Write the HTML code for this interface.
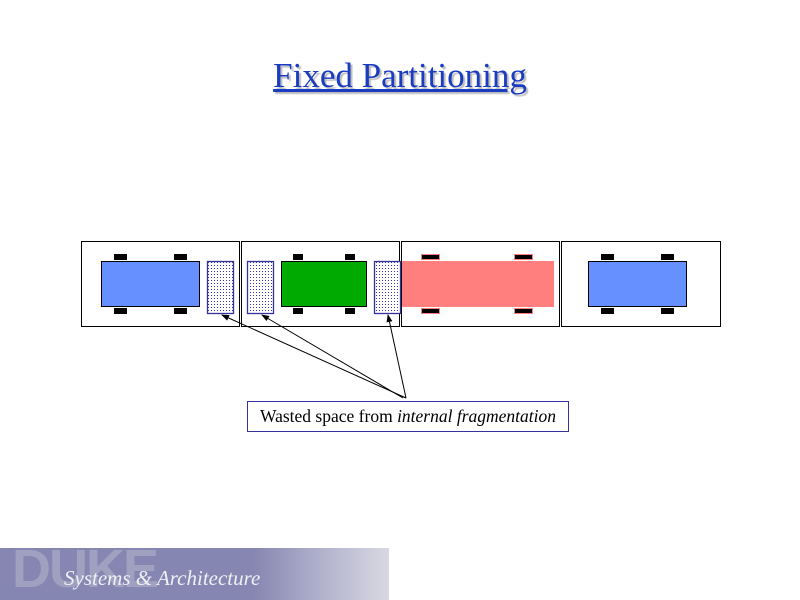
<!DOCTYPE html>
<html><head><meta charset="utf-8"><style>
body{margin:0;width:800px;height:600px;background:#fff;position:relative;overflow:hidden;font-family:"Liberation Serif",serif}
.t{position:absolute;left:0;width:800px;top:56px;text-align:center;font-family:"Liberation Serif",serif;font-size:35px;color:#1a3cc0;text-decoration:underline;text-shadow:2px 2px 1px #bbb}
.lbl{position:absolute;left:247px;top:401px;border:1px solid #333399;box-sizing:border-box;width:322px;height:31px;font-size:17.5px;line-height:29px;text-align:center;white-space:nowrap}
.foot{position:absolute;left:0;top:548px;width:389px;height:52px;background:linear-gradient(90deg,#8686b2 0%,#8686b2 65%,#b0b0cc 82%,#d8d8e2 100%)}
.duke{position:absolute;left:12px;top:-10px;font-family:"Liberation Sans",sans-serif;font-weight:bold;font-size:54px;color:#a0a0c0;letter-spacing:-2px}
.sa{position:absolute;left:64px;top:18px;font-style:italic;font-size:21px;color:#f0f0f4;white-space:nowrap}
</style></head><body>
<div class="t">Fixed Partitioning</div>
<svg width="800" height="600" style="position:absolute;left:0;top:0">
<defs><pattern id="d" width="3" height="3" patternUnits="userSpaceOnUse"><rect width="3" height="3" fill="#fff"/><rect x="1" y="1" width="1" height="1" fill="#3333aa"/></pattern>
<marker id="a" markerWidth="8" markerHeight="8" refX="7" refY="4" orient="auto"><path d="M0,1 L8,4 L0,7z" fill="#000"/></marker></defs>
<g fill="none" stroke="#000" stroke-width="1">
<rect x="81.5" y="241.5" width="158" height="85"/>
<rect x="241.5" y="241.5" width="158" height="85"/>
<rect x="401.5" y="241.5" width="158" height="85"/>
<rect x="561.5" y="241.5" width="159" height="85"/>
</g>
<g fill="#000">
<rect x="114" y="254" width="13" height="6"/><rect x="174" y="254" width="13" height="6"/><rect x="114" y="308" width="13" height="6"/><rect x="174" y="308" width="13" height="6"/>
<rect x="293" y="254" width="10" height="6"/><rect x="345" y="254" width="10" height="6"/><rect x="293" y="308" width="10" height="6"/><rect x="345" y="308" width="10" height="6"/>
<rect x="601" y="254" width="13" height="6"/><rect x="661" y="254" width="13" height="6"/><rect x="601" y="308" width="13" height="6"/><rect x="661" y="308" width="13" height="6"/>
</g>
<rect x="101.5" y="261.5" width="98" height="45" fill="#6690ff" stroke="#000"/>
<rect x="281.5" y="261.5" width="85" height="45" fill="#00aa00" stroke="#000"/>
<rect x="588.5" y="261.5" width="98" height="45" fill="#6690ff" stroke="#000"/>
<rect x="402" y="261" width="152" height="46" fill="#ff7f7f"/>
<g fill="#000" stroke="#ff7f7f" stroke-width="1">
<rect x="421.5" y="254.5" width="18" height="5"/><rect x="514.5" y="254.5" width="18" height="5"/><rect x="421.5" y="308.5" width="18" height="5"/><rect x="514.5" y="308.5" width="18" height="5"/>
</g>
<g fill="url(#d)" stroke="#333399" stroke-width="1.3">
<rect x="207.5" y="261.5" width="26" height="52"/>
<rect x="247.5" y="261.5" width="26" height="52"/>
<rect x="374.5" y="261.5" width="26" height="52"/>
</g>
<g stroke="#000" stroke-width="1" marker-end="url(#a)">
<line x1="406" y1="398" x2="222" y2="315"/>
<line x1="403" y1="398" x2="262" y2="315"/>
<line x1="406" y1="398" x2="388" y2="315"/>
</g>
</svg>
<div class="lbl">Wasted space from <i>internal fragmentation</i></div>
<div class="foot"><div class="duke">DUKE</div><div class="sa">Systems &amp; Architecture</div></div>
</body></html>
